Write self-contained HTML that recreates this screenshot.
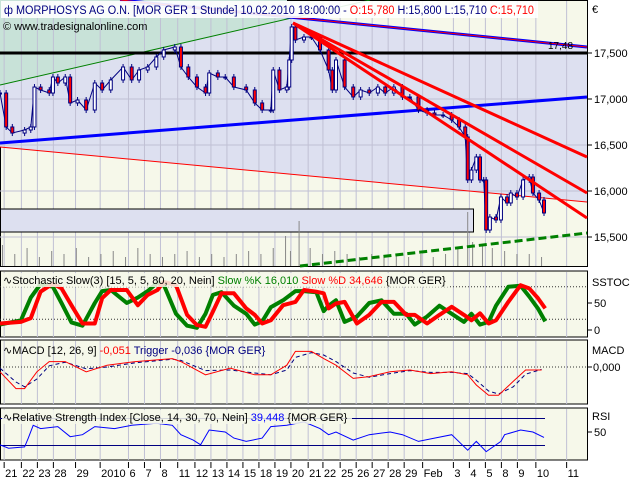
<!DOCTYPE html>
<html><head><meta charset="utf-8"><style>
body{margin:0;background:#fff}
svg{display:block;font-family:"Liberation Sans",sans-serif}
</style></head><body>
<svg id="c" width="640" height="480" viewBox="0 0 640 480" xmlns="http://www.w3.org/2000/svg">
<rect x="0" y="0" width="640" height="480" fill="#ffffff"/>
<g id="main"></g>
<g id="stoch"></g>
<g id="macd"></g>
<g id="rsi"></g>
<g id="xaxis"></g>
</svg>
<script>
const priceT=[0,5,10,20,25,28,33,40,43,47,53,57,63,70,77,83,90,100,107,113,120,127,133,142,147,153,160,167,170,177,183,190,200,207,213,220,222,227,233,235,237,240,247,253,260,267,270,273,280,287,293,300,307,313,320,327,333,340,347,353,360,367,373,378,380,383,387,390,393,395,398,403,407,412,415,420,425,430,433,438,442];
const priceClose=[17065,16696,16630,16663,16696,17130,17098,17065,17239,17174,17239,16957,16989,16880,17174,17098,17207,17348,17207,17315,17348,17457,17533,17565,17348,17239,17130,17065,17283,17239,17239,17130,17098,16957,16880,16880,17315,17098,17130,17424,17783,17641,17674,17674,17533,17315,17098,17424,17130,17022,17098,17065,17130,17065,17130,17022,17022,16880,16848,16826,16826,16772,16696,16587,16120,16228,16370,16120,16120,15576,15717,15685,15935,15870,15978,15935,16120,16152,15978,15902,15761];
const volT=[2,12,22,32,42,52,62,72,82,92,102,112,122,132,142,152,162,172,182,192,202,212,222,232,236,243,252,262,272,282,292,302,312,322,332,342,352,362,372,380,384,392,400,410,420,430,440];
const volValues=[0.35,0.2,0.3,0.15,0.25,0.2,0.3,0.15,0.2,0.25,0.15,0.3,0.2,0.15,0.2,0.25,0.15,0.2,0.15,0.2,0.25,0.2,0.3,0.5,0.25,0.75,0.3,0.2,0.25,0.2,0.15,0.2,0.15,0.2,0.15,0.2,0.15,0.2,0.3,0.9,0.4,0.35,0.3,0.25,0.2,0.2,0.15];
const stochT=[0,17,25,33,43,50,58,67,77,83,90,103,112,120,128,133,143,152,160,167,173,180,190,200,207,213,220,230,240,247,257,263,267,273,280,290,300,310,320,330,337,347,357,367,377,383,390,397,403,413,423,430,437,443];
const stochD=[12,15,22,71,86,77,46,12,12,59,74,74,46,65,74,89,83,28,9,6,34,68,68,40,28,12,18,46,52,74,71,68,40,49,52,12,28,52,52,28,28,12,28,43,28,18,31,12,18,52,83,77,59,40];
const stochK=[10,18,60,85,80,50,14,8,50,72,74,50,60,72,88,84,30,8,4,30,65,70,45,30,10,16,42,55,72,72,70,35,45,55,15,25,50,55,30,30,10,25,45,30,15,30,10,15,45,80,82,62,40,16];
const macdT=[0,13,20,30,40,53,70,87,110,140,147,167,187,207,220,233,240,253,263,273,287,300,317,333,350,367,380,387,397,405,417,427,440];
const macdLine=[-0.08,-0.36,-0.36,-0.08,0.09,0.09,-0.08,0.03,0.09,0.14,0.09,-0.13,-0.02,-0.13,-0.13,0.03,0.26,0.26,0.14,0.03,-0.19,-0.16,-0.08,-0.05,-0.11,-0.08,-0.13,-0.3,-0.47,-0.47,-0.24,-0.05,-0.05];
const macdTrigger=[-0.02,-0.25,-0.33,-0.2,0.02,0.08,-0.03,0,0.07,0.13,0.11,-0.06,-0.05,-0.1,-0.13,-0.05,0.16,0.24,0.2,0.09,-0.1,-0.17,-0.11,-0.06,-0.09,-0.09,-0.11,-0.22,-0.4,-0.45,-0.33,-0.12,-0.04];
const rsiT=[0,7,20,23,27,33,47,57,67,77,93,107,127,140,147,157,163,170,183,190,200,213,220,233,247,260,267,273,287,300,317,327,340,353,367,380,387,395,407,410,423,433,442];
const rsiValues=[31,26,28,41,60,55,58,43,46,58,55,60,63,60,46,38,31,53,50,41,36,41,58,60,65,55,46,50,38,46,50,46,36,41,46,23,36,21,36,46,53,50,42];
const dateLabels=["21","22","23","28","29","2010","6","7","8","11","12","13","14","15","18","19","20","21","22","25","26","27","28","29","Feb","3","4","5","8","9","10","11"];
const dateT=[5,19,32,45,63,83,106,119,132,146,160,173,186,199,212,225,238,252,264,278,291,304,317,330,345,370,383,396,409,422,437,462];
const priceTicks=[17500,17000,16500,16000,15500];
const priceTickLabels=["17,500","17,000","16,500","16,000","15,500"];

const NS="http://www.w3.org/2000/svg";
const R=587;
const xs=t=>t*1.2308;
const yP=p=>53+(17500-p)*0.092;
const yS=v=>330-v*0.54;
const yM=v=>367-v*60;
const yR=v=>432-(v-50)*0.675;
function el(parent,tag,attrs,text){const e=document.createElementNS(NS,tag);for(const k in attrs)e.setAttribute(k,attrs[k]);if(text!==undefined)e.textContent=text;parent.appendChild(e);return e;}
function pts(T,V,fy){return T.map((t,i)=>xs(t).toFixed(1)+","+fy(V[i]).toFixed(1)).join(" ");}
function grid(g,y0,y1){dateT.forEach(t=>{const x=xs(t)-2;const l=el(g,'line',{x1:x,x2:x,y1:y0,y2:y1,stroke:'#c0c0d4','stroke-width':1});});}

// MAIN
const m=document.getElementById('main');
let e=el(m,'rect',{x:0.5,y:0.5,width:R,height:266,fill:'#f6f8ea',stroke:'#000'});

e=el(m,'polygon',{points:`0,0 120,0 587,47 587,202 0,147`,fill:'#dde0f0'});

e=el(m,'polygon',{points:`0,0 287,0 287,19 0,85`,fill:'#c8e2d8'});

grid(m,1,266);
priceTicks.forEach((p,i)=>{const y=yP(p);let l=el(m,'line',{x1:0,x2:R,y1:y,y2:y,stroke:'#c0c0d4'});
l=el(m,'line',{x1:R,x2:R+5,y1:y,y2:y,stroke:'#000'});
const t=el(m,'text',{x:R+7,y:y+4,'font-size':11,fill:'#000'},priceTickLabels[i]);});
e=el(m,'rect',{x:0.5,y:209,width:473,height:23,fill:'#dde0f0',stroke:'#000'});

volT.forEach((t,i)=>{const l=el(m,'line',{x1:xs(t),x2:xs(t),y1:266,y2:266-volValues[i]*60,stroke:'#888','stroke-width':1});});
e=el(m,'line',{x1:0,y1:85,x2:370,y2:0,stroke:'#008000','stroke-width':1});
e=el(m,'line',{x1:0,y1:53,x2:R,y2:53,stroke:'#000','stroke-width':3});
e=el(m,'line',{x1:0,y1:143,x2:R,y2:97,stroke:'#0000ff','stroke-width':3});
e=el(m,'line',{x1:0,y1:147,x2:R,y2:202,stroke:'#ff0000','stroke-width':1});
e=el(m,'line',{x1:300,y1:266,x2:R,y2:233,stroke:'#008000','stroke-width':3,'stroke-dasharray':'8,4'});
const cg=el(m,'g',{});
el(cg,'polyline',{points:pts(priceT,priceClose,yP),fill:'none',stroke:'#000080','stroke-width':1});
priceClose.forEach((c,i)=>{const o=i?priceClose[i-1]:c;const x=xs(priceT[i]);const top=yP(Math.max(o,c)),bot=yP(Math.min(o,c));
let w=el(cg,'line',{x1:x,x2:x,y1:top-3,y2:bot+3,stroke:'#000080'});
let b=el(cg,'rect',{x:x-1.5,y:top,width:3,height:Math.max(1,bot-top),fill:c<o?'#ff0000':'#ffffff',stroke:'#000080','stroke-width':1});});
e=el(m,'line',{x1:120,y1:0,x2:R,y2:47,stroke:'#0000ff','stroke-width':3});
el(m,'line',{x1:120,y1:0,x2:R,y2:47,stroke:'#ff0000','stroke-width':1});
[[293,23,R,157],[293,23,R,193],[293,23,R,218]].forEach(a=>{const l=el(m,'line',{x1:a[0],y1:a[1],x2:a[2],y2:a[3],stroke:'#ff0000','stroke-width':3});});
e=el(m,'text',{x:548,y:49,'font-size':10,fill:'#000'},'17,48');
e=el(m,'rect',{x:1,y:1,width:537,height:17,fill:'#ffffff','fill-opacity':0.9});
e=el(m,'text',{x:4,y:14,'font-size':11.5,fill:'#000080',textLength:530,lengthAdjust:'spacingAndGlyphs'});
e.innerHTML='<tspan fill="#000080">ф MORPHOSYS AG O.N. [MOR GER  1 Stunde] 10.02.2010 18:00:00 - </tspan><tspan fill="#ff0000">O:15,780</tspan><tspan fill="#000080"> H:15,800 L:15,710 </tspan><tspan fill="#ff0000">C:15,710</tspan>';
e=el(m,'text',{x:3,y:30,'font-size':11,fill:'#000'},'© www.tradesignalonline.com');
e=el(m,'text',{x:592,y:13,'font-size':11,fill:'#000'},'€');

// STOCH
const s=document.getElementById('stoch');
e=el(s,'rect',{x:0.5,y:271,width:R,height:66,fill:'#f6f8ea',stroke:'#000'});
grid(s,272,337);
[80,20].forEach(v=>{const l=el(s,'line',{x1:0,x2:R,y1:yS(v),y2:yS(v),stroke:'#333','stroke-dasharray':'1,2'});});
e=el(s,'polyline',{points:pts(stochT,stochK,yS),fill:'none',stroke:'#008000','stroke-width':4,'stroke-linejoin':'round'});
e=el(s,'polyline',{points:pts(stochT,stochD,yS),fill:'none',stroke:'#ff0000','stroke-width':4,'stroke-linejoin':'round'});
e=el(s,'rect',{x:2,y:273,width:446,height:14,fill:'#f6f8ea','fill-opacity':0.85});
e=el(s,'text',{x:3,y:284,'font-size':11});
e.innerHTML='<tspan fill="#000">∿Stochastic Slow(3) [15, 5, 5, 80, 20, Nein] </tspan><tspan fill="#008000">Slow %K 16,010 </tspan><tspan fill="#ff0000">Slow %D 34,646 </tspan><tspan fill="#000">{MOR GER}</tspan>';
e=el(s,'text',{x:592,y:286,'font-size':11},'SSTOC');
[[50,'50'],[0,'0']].forEach(a=>{el(s,'line',{x1:R,x2:R+5,y1:yS(a[0]),y2:yS(a[0]),stroke:'#000'});const t=el(s,'text',{x:R+7,y:yS(a[0])+4,'font-size':11},a[1]);});

// MACD
const mc=document.getElementById('macd');
e=el(mc,'rect',{x:0.5,y:340,width:R,height:64,fill:'#f6f8ea',stroke:'#000'});
grid(mc,341,404);
e=el(mc,'line',{x1:0,x2:R,y1:yM(0),y2:yM(0),stroke:'#333','stroke-dasharray':'1,2'});
e=el(mc,'polyline',{points:pts(macdT,macdTrigger,yM),fill:'none',stroke:'#000080','stroke-width':1,'stroke-dasharray':'4,3'});
e=el(mc,'polyline',{points:pts(macdT,macdLine,yM),fill:'none',stroke:'#ff0000','stroke-width':1});
e=el(mc,'text',{x:3,y:354,'font-size':11});
e.innerHTML='<tspan fill="#000">∿MACD [12, 26, 9] </tspan><tspan fill="#ff0000">-0,051 </tspan><tspan fill="#000080">Trigger -0,036 {MOR GER}</tspan>';
e=el(mc,'text',{x:592,y:354,'font-size':11},'MACD');
el(mc,'line',{x1:R,x2:R+5,y1:yM(0),y2:yM(0),stroke:'#000'});
e=el(mc,'text',{x:R+6,y:yM(0)+4,'font-size':11},'0,000');

// RSI
const r=document.getElementById('rsi');
e=el(r,'rect',{x:0.5,y:408,width:R,height:52,fill:'#f6f8ea',stroke:'#000'});
grid(r,409,460);
[70,30].forEach(v=>{const l=el(r,'line',{x1:0,x2:545,y1:yR(v),y2:yR(v),stroke:'#000080','stroke-width':1});});
e=el(r,'polyline',{points:pts(rsiT,rsiValues,yR),fill:'none',stroke:'#0000ff','stroke-width':1});
e=el(r,'rect',{x:2,y:410,width:350,height:14,fill:'#f6f8ea','fill-opacity':0.85});
e=el(r,'text',{x:3,y:421,'font-size':11});
e.innerHTML='<tspan fill="#000">∿Relative Strength Index [Close, 14, 30, 70, Nein] </tspan><tspan fill="#0000ff">39,448 </tspan><tspan fill="#000">{MOR GER}</tspan>';
e=el(r,'text',{x:592,y:420,'font-size':11},'RSI');
el(r,'line',{x1:R,x2:R+5,y1:yR(50),y2:yR(50),stroke:'#000'});
e=el(r,'text',{x:R+7,y:yR(50)+4,'font-size':11},'50');

// X axis
const xa=document.getElementById('xaxis');
dateT.forEach((t,i)=>{const x=xs(t)-2;let l=el(xa,'line',{x1:x,x2:x,y1:462,y2:468,stroke:'#000'});
const tx=el(xa,'text',{x:x+1,y:477,'font-size':11},dateLabels[i]);});
</script>
</body></html>
